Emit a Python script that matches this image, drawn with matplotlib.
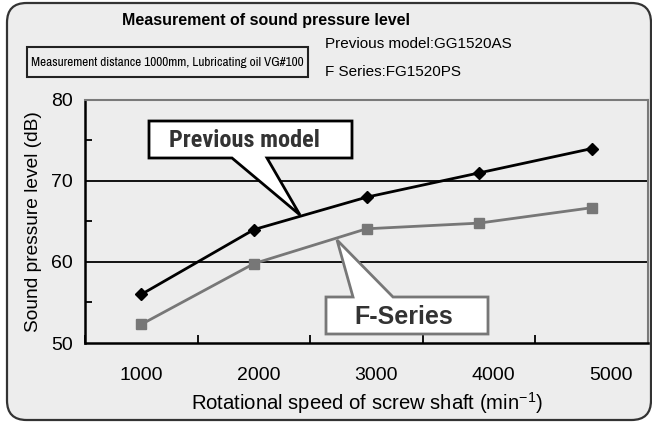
import matplotlib
matplotlib.use("Agg")
import matplotlib.pyplot as plt
import numpy as np
from matplotlib.patches import FancyBboxPatch, Polygon, Rectangle

speeds = ["1000", "2000", "3000", "4000", "5000"]
previous_model = [56.0, 64.0, 68.0, 71.0, 74.0]
f_series = [52.3, 59.8, 64.1, 64.8, 66.7]

plt.rcParams['font.family'] = ['Liberation Sans', 'DejaVu Sans']
plt.rcParams['mathtext.fontset'] = 'custom'
plt.rcParams['mathtext.rm'] = 'Liberation Sans'
plt.rcParams['mathtext.it'] = 'Liberation Sans'
NARROW = ['Liberation Sans Narrow', 'Archivo Narrow', 'DejaVu Sans']
NARROW_BOLD = ['Liberation Sans Narrow', 'Roboto Condensed', 'Asap Condensed', 'DejaVu Sans']

W, H = 652, 423
fig = plt.figure(figsize=(W / 100, H / 100), dpi=100)
fig.patch.set_facecolor('white')

def px(x, y):
    return (x / W, 1 - y / H)

BG = '#ededed'
frame = FancyBboxPatch(px(7, 420), 644 / W, 417 / H,
                       boxstyle="round,pad=0,rounding_size=0.03",
                       transform=fig.transFigure, facecolor=BG,
                       edgecolor='#333333', linewidth=1.6, zorder=-5,
                       mutation_aspect=W / H)
fig.patches.append(frame)

ax = fig.add_axes([85 / W, 1 - 343 / H, (648 - 85) / W, (343 - 100) / H])
ax.set_zorder(1)
ax.set_facecolor(BG)
x = np.arange(len(speeds))
ax.set_xlim(-0.5, len(speeds) - 0.5)
ax.set_ylim(50, 80)

for g in (60, 70):
    ax.axhline(g, color='black', lw=1.3, zorder=1)

ax.plot(x, previous_model, color='black', lw=2, marker='D', ms=6.5,
        zorder=3, clip_on=False)
ax.plot(x, f_series, color='#777777', lw=2, marker='s', ms=6.5,
        zorder=3, clip_on=False)

for s in ('top', 'right'):
    ax.spines[s].set_color('#7a7a7a')
    ax.spines[s].set_linewidth(1.5)
for s in ('left', 'bottom'):
    ax.spines[s].set_color('black')
    ax.spines[s].set_linewidth(1.8)

ax.set_xticks(np.arange(-0.5, len(speeds), 1.0))
ax.set_xticklabels([])
label_pos = x + x * 0.043
ax.set_xticks(label_pos, minor=True)
ax.set_xticklabels(speeds, minor=True)
ax.tick_params(axis='x', which='major', direction='in', length=6, width=1.3)
ax.tick_params(axis='x', which='minor', length=0, pad=17, labelsize=14)

ax.set_yticks([50, 60, 70, 80])
ax.set_yticks([55, 65, 75], minor=True)
ax.tick_params(axis='y', which='major', direction='in', length=0, pad=9, labelsize=14)
ax.tick_params(axis='y', which='minor', direction='in', length=5, width=1.3)

ax.set_ylabel('Sound pressure level (dB)', fontsize=13.8, labelpad=6)
ax.set_xlabel(r'Rotational speed of screw shaft (min$^{-1}$)', fontsize=14.6, labelpad=5)

# title and notes
fig.text(*px(266, 21), 'Measurement of sound pressure level', ha='center',
         va='center', fontsize=11.5, fontweight='bold', zorder=6)
fig.patches.append(Rectangle(px(27, 77), (308 - 27) / W, 30 / H,
                             transform=fig.transFigure, facecolor='none',
                             edgecolor='#222222', lw=1.5, zorder=6))
fig.text(*px(167, 62), 'Measurement distance 1000mm, Lubricating oil VG#100',
         ha='center', va='center', fontsize=9.5, family=NARROW, zorder=6)
fig.text(*px(325, 44), 'Previous model:GG1520AS', ha='left', va='center',
         fontsize=11, zorder=6)
fig.text(*px(325, 72), 'F Series:FG1520PS', ha='left', va='center',
         fontsize=11, zorder=6)

# callouts
pm = [(149, 121), (352, 121), (352, 158), (267, 158), (300, 215), (232, 158), (149, 158)]
fig.patches.append(Polygon([px(*p) for p in pm], closed=True, transform=fig.transFigure,
                           facecolor='white', edgecolor='black', lw=2, zorder=5))
fig.text(*px(244, 140), 'Previous model', ha='center', va='center', fontsize=17.5,
         fontweight='bold', color='#333333', zorder=6, family=NARROW_BOLD)
fs = [(326, 297), (353, 297), (337, 240), (393, 297), (488, 297), (488, 334), (326, 334)]
fig.patches.append(Polygon([px(*p) for p in fs], closed=True, transform=fig.transFigure,
                           facecolor='white', edgecolor='#777777', lw=2, zorder=5))
fig.text(*px(404, 317), 'F-Series', ha='center', va='center', fontsize=18,
         fontweight='bold', color='#333333', zorder=6)

fig.savefig('out.png', dpi=100, facecolor='white')
